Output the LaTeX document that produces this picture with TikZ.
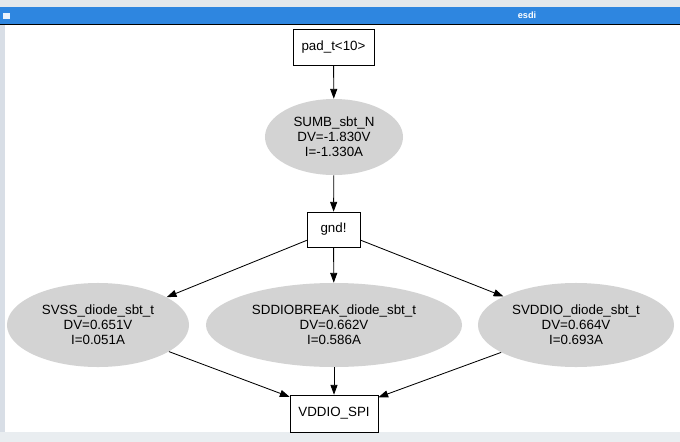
\documentclass[tikz,border=0pt]{standalone}
\usepackage{fontspec}
\setmainfont{Liberation Sans}
\usetikzlibrary{shapes.geometric,arrows.meta}

\definecolor{titleblue}{HTML}{2E86E0}
\definecolor{framegray}{HTML}{E4E8EC}
\definecolor{sidegray}{HTML}{D8DEE6}
\definecolor{nodegray}{HTML}{D3D3D3}

\tikzset{
  netbox/.style={draw, thin, fill=white, rectangle, inner sep=0pt, font=\fontsize{9.5}{10.6}\selectfont},
  devnode/.style={ellipse, fill=nodegray, inner sep=0pt, align=center, minimum height=2.1cm, font=\fontsize{9.5}{10.6}\selectfont},
  edge/.style={-{Triangle[length=7pt,width=5pt]}, semithick}
}

\begin{document}
\begin{tikzpicture}[x=0.025cm, y=-0.025cm]
\useasboundingbox (0,0) rectangle (680,442);

% Window frame
\fill[white] (0,0) rectangle (680,442);
\fill[framegray] (0,0) rectangle (680,7);
\fill[titleblue] (0,7) rectangle (680,23.5);
\fill[black] (0,23.5) rectangle (680,25);
\fill[sidegray] (0,25) rectangle (5,442);
\fill[framegray!80!white] (0,432) rectangle (680,442);
\fill[white!90!titleblue] (3,12.5) rectangle (10,19);
\node[text=white, font=\fontsize{6.5}{7}\selectfont\bfseries] (title) at (527,15.5) {esdi};

% Nodes of the graph
\node[netbox, minimum width=2.025cm, minimum height=0.9cm] (pad) at (333.5,47) {pad\_t<10>};
\node[devnode, minimum width=3.45cm, minimum height=1.9cm] (sumb) at (334,137) {SUMB\_sbt\_N\\DV=-1.830V\\I=-1.330A};
\node[netbox, minimum width=1.325cm, minimum height=0.875cm] (gnd) at (333.5,229.5) {gnd!};
\node[devnode, minimum width=4.55cm] (svss) at (98,325) {SVSS\_diode\_sbt\_t\\DV=0.651V\\I=0.051A};
\node[devnode, minimum width=6.4cm] (sddio) at (334,325) {SDDIOBREAK\_diode\_sbt\_t\\DV=0.662V\\I=0.586A};
\node[devnode, minimum width=4.9cm] (svddio) at (576,325) {SVDDIO\_diode\_sbt\_t\\DV=0.664V\\I=0.693A};
\node[netbox, minimum width=2.2cm, minimum height=0.925cm] (spi) at (334,413.5) {VDDIO\_SPI};

% Connections
\draw[edge] (pad) -- (sumb);
\draw[edge] (sumb) -- (gnd);
\draw[edge] (gnd) -- (svss);
\draw[edge] (gnd) -- (sddio);
\draw[edge] (gnd) -- (svddio);
\draw[edge] (svss) -- (spi);
\draw[edge] (sddio) -- (spi);
\draw[edge] (svddio) -- (spi);
\end{tikzpicture}
\end{document}
